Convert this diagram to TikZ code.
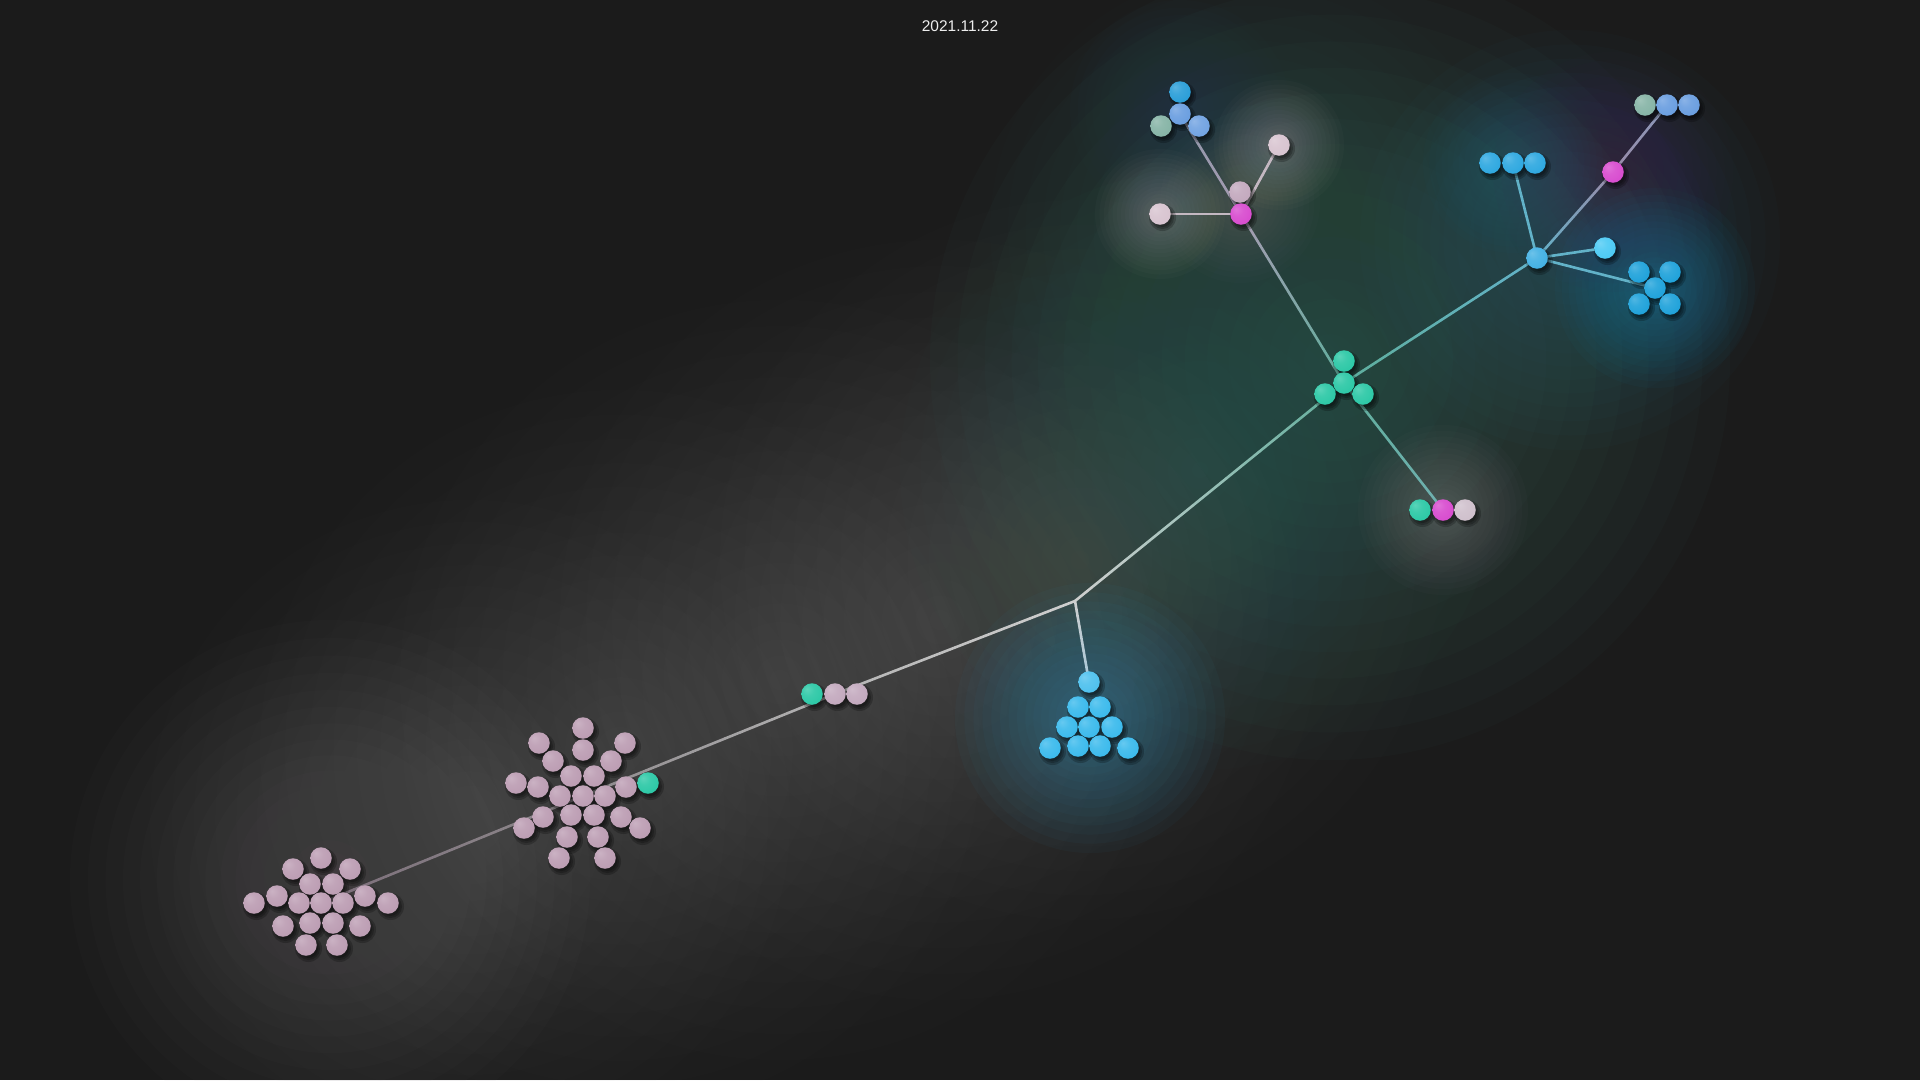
\documentclass[tikz,border=0pt]{standalone}
\usepackage{fontspec}
\setmainfont{Liberation Sans}
\usetikzlibrary{calc}
\definecolor{bgc}{HTML}{1B1B1B}
\definecolor{teal1}{HTML}{2CC8A6}
\definecolor{pink1}{HTML}{BC9DB3}
\definecolor{pinkL}{HTML}{D8C4D0}
\definecolor{pinkM}{HTML}{C3A9BE}
\definecolor{pinkB}{HTML}{CFC0CC}
\definecolor{mag1}{HTML}{D84CCF}
\definecolor{tri1}{HTML}{3BBAEC}
\definecolor{blu1}{HTML}{2EA8E0}
\definecolor{blu5}{HTML}{1FA2DA}
\definecolor{bluL}{HTML}{4CCAF4}
\definecolor{corn}{HTML}{6A9EE0}
\definecolor{deepb}{HTML}{2A9ED8}
\definecolor{sage}{HTML}{86B4A6}
\definecolor{hazeg}{HTML}{767676}
\definecolor{hazep}{HTML}{7A6C76}
\definecolor{hazet}{HTML}{3A7066}
\definecolor{hazeb}{HTML}{2F7890}
\definecolor{ecgray}{HTML}{CFCFCF}
\definecolor{ecteal}{HTML}{5FAE9C}
\definecolor{ectri}{HTML}{A9C8D8}
\definecolor{ecmid}{HTML}{B4B4B4}
\definecolor{ecbig}{HTML}{8E8A8D}
\definecolor{ecsmall}{HTML}{7C6E7A}
\definecolor{ecpurple}{HTML}{A79CB2}
\definecolor{eclav}{HTML}{9097AA}
\definecolor{ecpink}{HTML}{C4B8C2}
\definecolor{ecblue}{HTML}{62B2C8}
\definecolor{ecblueb}{HTML}{70B0B0}
\definecolor{ecmagb}{HTML}{9A8AA8}
\definecolor{ectop}{HTML}{8A98B8}
\colorlet{ballc}{black}
\pgfdeclareradialshading[ballc]{sph}{\pgfqpoint{-12bp}{12bp}}{color(0bp)=(ballc!78!white); color(14bp)=(ballc!92!white); color(32bp)=(ballc); color(50bp)=(ballc!88!black); color(62bp)=(ballc!75!black)}
\pgfdeclarelayer{bg}
\pgfdeclarelayer{edges}
\pgfdeclarelayer{shd}
\pgfsetlayers{bg,edges,shd,main}
\tikzset{
  ball/.style={circle, inner sep=0pt, minimum size=21.5pt, shade, shading=sph, /utils/exec={\colorlet{ballc}{#1}}},
  edgeline/.style={line width=2.6pt, line cap=round},
}
\newcommand\ball[4]{%
  \begin{pgfonlayer}{shd}%
  \fill[black, opacity=0.22] (#2+2.5,#3+3.5) circle (13.5);%
  \fill[black, opacity=0.22] (#2+2.5,#3+3.5) circle (11.5);%
  \fill[black, opacity=0.22] (#2+2.5,#3+3.5) circle (9.5);%
  \end{pgfonlayer}
  \node[ball=#4] (#1) at (#2,#3) {};}
\newcommand\glow[5]{%
  \pgfmathsetmacro\gO{1-(1-#5)^(1/18)}%
  \foreach \k in {1,...,18}{%
    \pgfmathsetmacro\gR{#3*(\k/18)^1.25}%
    \fill[#4, opacity=\gO] (#1,#2) circle (\gR);}}
\newcommand\gedge[4]{%
  \begin{pgfonlayer}{edges}
  \foreach \i in {1,...,16}{%
    \pgfmathsetmacro\gA{(\i-1)/16}%
    \pgfmathsetmacro\gB{\i/16}%
    \pgfmathtruncatemacro\gP{100-(\i-0.5)*100/16}%
    \draw[edgeline, draw=#3!\gP!#4] ($(#1)!\gA!(#2)$) -- ($(#1)!\gB!(#2)$);}
  \end{pgfonlayer}}
\begin{document}
\begin{tikzpicture}[x=1pt,y=-1pt]
\useasboundingbox (0,0) rectangle (1920,1080);
\begin{pgfonlayer}{bg}
\fill[bgc] (0,0) rectangle (1920,1080);
% trunk haze (elongated band along the trunk)
\glow{330}{880}{260}{hazep}{0.45}
\glow{470}{820}{320}{hazeg}{0.25}
\glow{620}{750}{360}{hazeg}{0.28}
\glow{780}{680}{380}{hazeg}{0.3}
\glow{940}{620}{380}{hazeg}{0.32}
\glow{1080}{560}{360}{hazeg}{0.3}
\glow{1060}{660}{200}{hazeg}{0.2}
\glow{1200}{470}{300}{hazet}{0.35}
% teal region
\glow{1330}{360}{400}{hazet}{0.55}
\glow{1250}{230}{260}{hazet}{0.3}
% blue glows
\glow{1090}{718}{135}{tri1!80!black}{0.55}
\glow{1570}{240}{210}{hazeb}{0.45}
\glow{1655}{288}{100}{blu5!80!black}{0.55}
\glow{1513}{163}{90}{blu1!70!black}{0.35}
\glow{1613}{172}{120}{mag1!45!black}{0.4}
\glow{1180}{110}{110}{corn!55!black}{0.35}
% soft light glows
\glow{1160}{214}{65}{pinkL}{0.35}
\glow{1279}{145}{65}{pinkL}{0.35}
\glow{1240}{203}{80}{pinkM}{0.25}
\glow{1443}{510}{85}{pinkB}{0.28}
\end{pgfonlayer}
% date
\node[font=\fontsize{15.5}{18}\selectfont, text=white!93!black] (date) at (960,26) {2021.11.22};
% upper left group
\ball{tl1}{1180}{92}{deepb}
\ball{tl2}{1180}{114}{corn}
\ball{tl3}{1199}{126}{corn!95!white}
\ball{tl4}{1161}{126}{sage}
\ball{pinkT}{1279}{145}{pinkL}
\ball{pinkM}{1240}{192}{pinkM}
\ball{magA}{1241}{214}{mag1}
\ball{pinkL}{1160}{214}{pinkL}
% upper right group
\ball{tr1}{1645}{105}{sage}
\ball{tr2}{1667}{105}{corn}
\ball{tr3}{1689}{105}{corn}
\ball{b3a}{1490}{163}{blu1}
\ball{b3b}{1513}{163}{blu1}
\ball{b3c}{1535}{163}{blu1}
\ball{magB}{1613}{172}{mag1}
\ball{lb}{1605}{248}{bluL}
\ball{hub}{1537}{258}{blu1!90!white}
\ball{c5a}{1639}{272}{blu5}
\ball{c5b}{1670}{272}{blu5}
\ball{c5c}{1655}{288}{blu5}
\ball{c5d}{1639}{304}{blu5}
\ball{c5e}{1670}{304}{blu5}
% teal centre
\ball{t1}{1344}{361}{teal1}
\ball{tc}{1344}{383}{teal1}
\ball{t2}{1325}{394}{teal1}
\ball{t3}{1363}{394}{teal1}
% bottom trio right
\ball{bt1}{1420}{510}{teal1}
\ball{bt2}{1443}{510}{mag1}
\ball{bt3}{1465}{510}{pinkB}
% triangle
\coordinate (br) at (1075,601);
\ball{tri1}{1089}{682}{tri1!90!white}
\ball{tri2}{1078}{707}{tri1}
\ball{tri3}{1100}{707}{tri1}
\ball{tri4}{1067}{727}{tri1}
\ball{tri5}{1089}{727}{tri1}
\ball{tri6}{1112}{727}{tri1}
\ball{tri7}{1050}{748}{tri1}
\ball{tri8}{1078}{746}{tri1}
\ball{tri9}{1100}{746}{tri1}
\ball{tri10}{1128}{748}{tri1}
% middle trio
\ball{m1}{812}{694}{teal1}
\ball{m2}{835}{694}{pinkM}
\ball{m3}{857}{694}{pinkM}
% big cluster
\ball{bg1}{583}{728}{pink1}
\ball{bg2}{539}{743}{pink1}
\ball{bg3}{625}{743}{pink1}
\ball{bg4}{583}{750}{pink1}
\ball{bg5}{553}{761}{pink1}
\ball{bg6}{611}{761}{pink1}
\ball{bg7}{571}{776}{pink1}
\ball{bg8}{594}{776}{pink1}
\ball{bg9}{516}{783}{pink1}
\ball{bg10}{538}{787}{pink1}
\ball{bg11}{560}{796}{pink1}
\ball{bigc}{583}{796}{pink1}
\ball{bg12}{605}{796}{pink1}
\ball{bg13}{626}{787}{pink1}
\ball{bgt}{648}{783}{teal1}
\ball{bg14}{571}{815}{pink1}
\ball{bg15}{594}{815}{pink1}
\ball{bg16}{543}{817}{pink1}
\ball{bg17}{621}{817}{pink1}
\ball{bg18}{524}{828}{pink1}
\ball{bg19}{640}{828}{pink1}
\ball{bg20}{567}{837}{pink1}
\ball{bg21}{598}{837}{pink1}
\ball{bg22}{559}{858}{pink1}
\ball{bg23}{605}{858}{pink1}
% small cluster
\ball{sm1}{321}{858}{pink1}
\ball{sm2}{293}{869}{pink1}
\ball{sm3}{350}{869}{pink1}
\ball{sm4}{310}{884}{pink1}
\ball{sm5}{333}{884}{pink1}
\ball{sm6}{277}{896}{pink1}
\ball{sm7}{365}{896}{pink1}
\ball{sm8}{254}{903}{pink1}
\ball{sm9}{299}{903}{pink1}
\ball{smc}{321}{903}{pink1}
\ball{sm10}{343}{903}{pink1}
\ball{sm11}{388}{903}{pink1}
\ball{sm12}{310}{923}{pink1}
\ball{sm13}{333}{923}{pink1}
\ball{sm14}{283}{926}{pink1}
\ball{sm15}{360}{926}{pink1}
\ball{sm16}{306}{945}{pink1}
\ball{sm17}{337}{945}{pink1}
% connectors
\gedge{tc}{br}{ecteal}{ecgray}
\gedge{br}{tri1}{ecgray}{ectri}
\gedge{br}{m2}{ecgray}{ecmid}
\gedge{m2}{bigc}{ecmid}{ecbig}
\gedge{bigc}{smc}{ecbig}{ecsmall}
\gedge{tc}{magA}{ecteal}{ecpurple}
\gedge{magA}{tl2}{ecpurple}{eclav}
\gedge{magA}{pinkL}{ecpink}{ecpink}
\gedge{magA}{pinkT}{ecpink}{ecpink}
\gedge{tc}{hub}{ecteal}{ecblue}
\gedge{tc}{bt2}{ecteal}{ecblueb}
\gedge{hub}{b3b}{ecblue}{ecblue}
\gedge{hub}{magB}{ecblue}{ecmagb}
\gedge{magB}{tr2}{ecmagb}{ectop}
\gedge{hub}{lb}{ecblue}{ecblue}
\gedge{hub}{c5c}{ecblue}{ecblue}
\end{tikzpicture}
\end{document}
